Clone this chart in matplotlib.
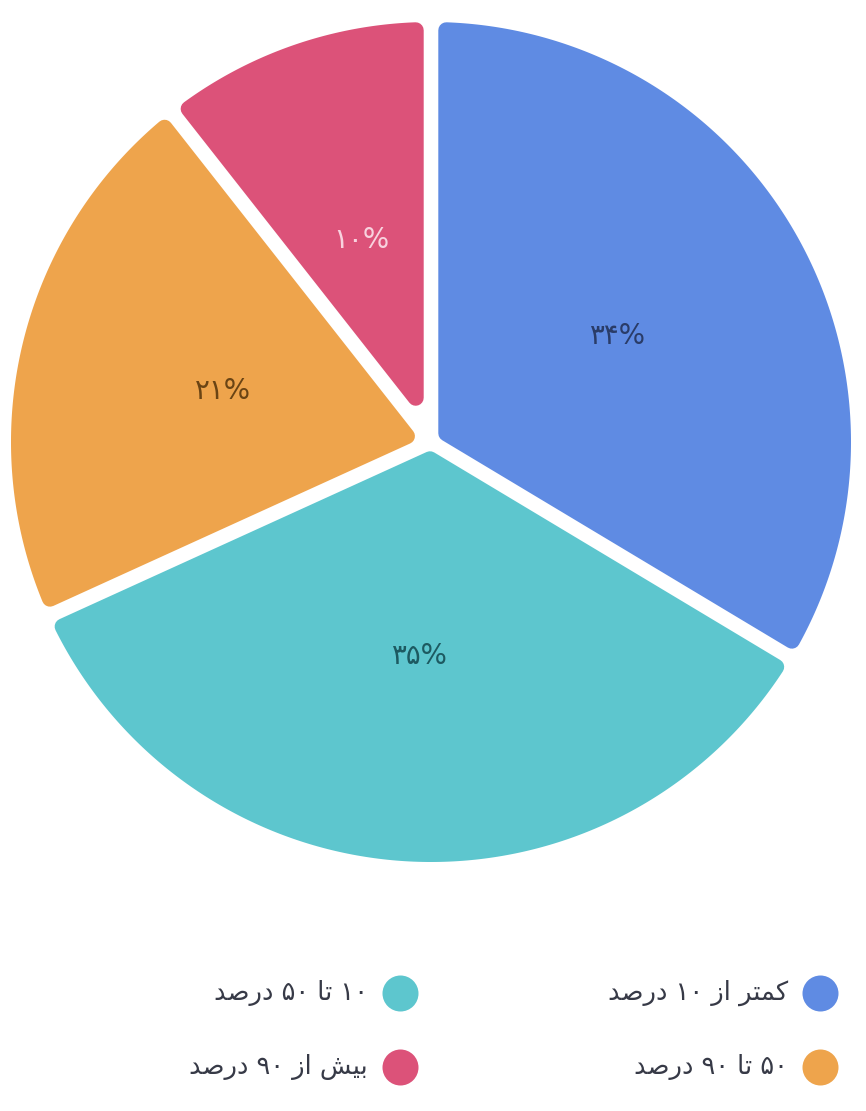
import numpy as np
import matplotlib
matplotlib.use('Agg')
import matplotlib.pyplot as plt
from matplotlib.patches import Polygon

# ---- data ----
categories = ['کمتر از ۱۰ درصد', '۱۰ تا ۵۰ درصد', '۵۰ تا ۹۰ درصد', 'بیش از ۹۰ درصد']
values = [33.6, 34.6, 21.2, 10.6]
pct_labels = ['۳۴%', '۳۵%', '۲۱%', '۱۰%']
# visual-order (shaped) forms of the category names for rendering without a shaping engine
legend_labels = [
    '\uFEAA\uFEBB\uFEAD\uFEA9 ۱۰ \uFEAF\uFE8D \uFEAE\uFE98\uFEE4\uFB90',
    '\uFEAA\uFEBB\uFEAD\uFEA9 ۵۰ \uFE8E\uFE97 ۱۰',
    '\uFEAA\uFEBB\uFEAD\uFEA9 ۹۰ \uFE8E\uFE97 ۵۰',
    '\uFEAA\uFEBB\uFEAD\uFEA9 ۹۰ \uFEAF\uFE8D \uFEB6\uFBFF\uFE91',
]
colors = ['#5f8be3', '#5dc6ce', '#eea44c', '#dc5279']
label_colors = ['#2a3c68', '#1d5a61', '#6a4414', '#f8d2de']

W, H = 866, 1111
fig = plt.figure(figsize=(W / 100, H / 100), dpi=100)
ax = fig.add_axes([0, 0, 1, 1])
C = np.array([431.0, H - 442.0])
R = 420.0
gap_half = 7.3
corner = 8.0

wedges, autotexts = ax.pie(values, colors=colors, startangle=90, counterclock=False,
                           center=tuple(C), radius=R, autopct='%1.0f%%',
                           pctdistance=0.51)[0::2]
ax.set_xlim(0, W)
ax.set_ylim(0, H)
ax.set_aspect('equal')
ax.axis('off')

h = gap_half + corner
Ro = R - corner
lw_pt = 2 * corner * 72 / 100
for w, col in zip(wedges, colors):
    w.set_visible(False)
    a1, a2 = np.radians(w.theta1), np.radians(w.theta2)
    half = (a2 - a1) / 2
    m = (a1 + a2) / 2
    apex = C + (h / np.sin(half)) * np.array([np.cos(m), np.sin(m)])
    d = np.arctan2(h, np.sqrt(Ro ** 2 - h ** 2))
    th = np.linspace(a1 + d, a2 - d, 200)
    arc = np.column_stack([C[0] + Ro * np.cos(th), C[1] + Ro * np.sin(th)])
    pts = np.vstack([apex, arc])
    ax.add_patch(Polygon(pts, closed=True, facecolor=col, edgecolor=col,
                         linewidth=lw_pt, joinstyle='round', zorder=2))

for t, lab, c in zip(autotexts, pct_labels, label_colors):
    t.set_text(lab)
    t.set_color(c)
    t.set_fontsize(20)
    t.set_family(['DejaVu Sans'])
    t.set_zorder(5)

# legend (right-to-left layout, marker on the right of the text)
col_x = [820, 400]
row_y = [H - 993, H - 1067]
order = [(0, 0), (1, 0), (0, 1), (1, 1)]  # (column, row) for each category
for (ci, ri), lab, col in zip(order, legend_labels, colors):
    x, y = col_x[ci], row_y[ri]
    ax.scatter([x], [y], s=(36 * 0.72) ** 2, color=col, zorder=5, linewidths=0)
    ax.text(x - 32, y, lab, ha='right', va='center', fontsize=18.5,
            color='#373a47', family=['DejaVu Sans'])

fig.savefig('out.png', dpi=100, facecolor='white')
